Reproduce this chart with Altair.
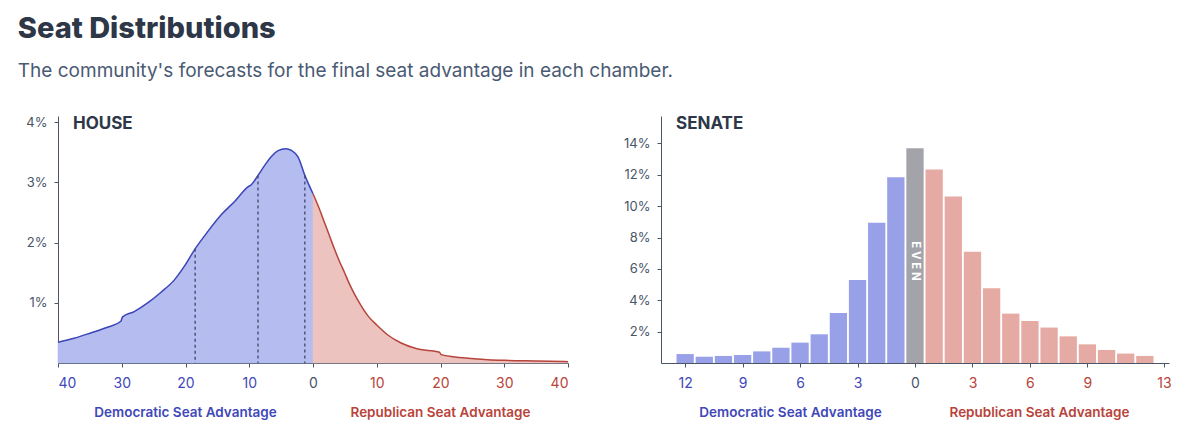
import altair as alt
import pandas as pd

# ---------------- data ----------------
# House: forecast density (% per seat) vs. seat advantage (negative = Democratic)
HOUSE_DEM_X = [-40, -37.48, -34.86, -32.24, -30.14, -29.87, -28.04, -25.94, -23.84, -21.74,
               -20.17, -18.49, -16.5, -14.4, -12.3, -10.2, -9.68, -8.63, -7.58, -6.53,
               -5.48, -4.27, -3.38, -2.33, -1.28, 0]
HOUSE_DEM_Y = [0.343, 0.410, 0.499, 0.593, 0.693, 0.765, 0.853, 0.997, 1.175, 1.380,
               1.607, 1.895, 2.183, 2.460, 2.681, 2.925, 2.958, 3.114, 3.280, 3.429,
               3.524, 3.557, 3.529, 3.418, 3.114, 2.809]
HOUSE_REP_X = [0, 0.99, 1.78, 2.57, 3.35, 4.14, 4.92, 5.71, 6.49, 7.54, 8.59, 10.0, 11.73,
               13.82, 16.44, 19.84, 20.1, 22.2, 24.29, 27.43, 30.05, 34.76, 40]
HOUSE_REP_Y = [2.809, 2.56, 2.338, 2.116, 1.895, 1.690, 1.507, 1.313, 1.147, 0.953, 0.787,
               0.632, 0.465, 0.332, 0.233, 0.177, 0.139, 0.100, 0.078, 0.055, 0.044, 0.033, 0.022]
HOUSE_MARKERS_X = [-18.49, -8.63, -1.28]
HOUSE_MARKERS_Y = [1.895, 3.114, 3.114]

# Senate: probability (%) of each final seat advantage
SENATE_SEATS = list(range(-12, 13))
SENATE_PCT = [0.57, 0.40, 0.45, 0.51, 0.74, 0.98, 1.30, 1.83, 3.19, 5.30, 8.94, 11.85,
              13.70,
              12.34, 10.62, 7.09, 4.77, 3.15, 2.68, 2.26, 1.70, 1.19, 0.83, 0.60, 0.45]

HOUSE_X_TICKS = [-40, -30, -20, -10, 0, 10, 20, 30, 40]
HOUSE_Y_TICKS = [1, 2, 3, 4]
SENATE_X_TICKS = [-12, -9, -6, -3, 0, 3, 6, 9, 13]
SENATE_Y_TICKS = [2, 4, 6, 8, 10, 12, 14]

SIDE_LABELS = ["Democratic Seat Advantage", "Republican Seat Advantage"]
SIDE_PARTY = ["dem", "rep"]
HOUSE_SIDE_X = [-20, 20]
SENATE_SIDE_X = [-6.5, 6.5]

# ---------------- style ----------------
FONT = "Inter"
BLUE_FILL = "#b4bcf0"
BLUE_LINE = "#3c46b8"
RED_FILL = "#ecc3bf"
RED_LINE = "#b8453c"
BAR_BLUE = "#98a1e8"
BAR_GRAY = "#a3a3aa"
BAR_RED = "#e6aaa5"
LBL_BLUE = "#3f48b8"
LBL_RED = "#b8433a"
LBL_GRAY = "#4a5568"
AXIS_COLOR = "#4a5568"
W_H, W_S, H = 510, 508, 247

label_color = alt.ExprRef(
    f"datum.value < 0 ? '{LBL_BLUE}' : (datum.value > 0 ? '{LBL_RED}' : '{LBL_GRAY}')")


def x_axis(ticks):
    return alt.Axis(values=ticks, labelExpr="abs(datum.value)", title=None, grid=False,
                    labelColor=label_color, labelFontSize=14, labelPadding=9,
                    tickSize=4, domainColor=AXIS_COLOR, tickColor=AXIS_COLOR)


def y_axis(ticks):
    return alt.Axis(values=ticks, labelExpr="datum.value + '%'", title=None, grid=False,
                    labelColor=LBL_GRAY, labelFontSize=13, labelPadding=7, tickSize=4,
                    domainColor=AXIS_COLOR, tickColor=AXIS_COLOR)


side_color = alt.condition("datum.party == 'dem'", alt.value(LBL_BLUE), alt.value(LBL_RED))

# ---------------- House ----------------
dem = pd.DataFrame({"seat": HOUSE_DEM_X, "pct": HOUSE_DEM_Y})
rep = pd.DataFrame({"seat": HOUSE_REP_X, "pct": HOUSE_REP_Y})
markers = pd.DataFrame({"seat": HOUSE_MARKERS_X, "pct": HOUSE_MARKERS_Y})

hx = alt.X("seat:Q", scale=alt.Scale(domain=[-40, 40], nice=False), axis=x_axis(HOUSE_X_TICKS))
hy = alt.Y("pct:Q", scale=alt.Scale(domain=[0, 4.1], nice=False), axis=y_axis(HOUSE_Y_TICKS))

dem_area = alt.Chart(dem).mark_area(
    color=BLUE_FILL, opacity=1, interpolate="monotone", stroke=BLUE_FILL, strokeWidth=0.6,
    line={"color": BLUE_LINE, "strokeWidth": 1.5}).encode(x=hx, y=hy)
rep_area = alt.Chart(rep).mark_area(
    color=RED_FILL, opacity=1, interpolate="monotone", stroke=RED_FILL, strokeWidth=0.6,
    line={"color": RED_LINE, "strokeWidth": 1.5}).encode(x="seat:Q", y="pct:Q")
marker_rules = alt.Chart(markers).mark_rule(
    color="#3f4466", strokeDash=[3, 3], strokeWidth=1.3).encode(
    x="seat:Q", y="pct:Q", y2=alt.datum(0))

house_side = pd.DataFrame({"seat": HOUSE_SIDE_X, "label": SIDE_LABELS, "party": SIDE_PARTY})
house_side_text = alt.Chart(house_side).mark_text(
    font=FONT, fontSize=13.5, fontWeight=600, baseline="alphabetic").encode(
    x="seat:Q", y=alt.value(301), text="label:N", color=side_color)

house_title = alt.Chart(pd.DataFrame({"t": ["HOUSE"]})).mark_text(
    font=FONT, fontSize=17, fontWeight="bold", color="#2d3748", align="left",
    baseline="alphabetic").encode(x=alt.value(15), y=alt.value(13), text="t:N")

house = alt.layer(dem_area, rep_area, marker_rules, house_side_text, house_title).properties(
    width=W_H, height=H)

# ---------------- Senate ----------------
senate = pd.DataFrame({"seat": SENATE_SEATS, "pct": SENATE_PCT})

sx = alt.X("seat:Q", scale=alt.Scale(domain=[-13, 13], nice=False), axis=x_axis(SENATE_X_TICKS))
sy = alt.Y("pct:Q", scale=alt.Scale(domain=[0, 15.75], nice=False), axis=y_axis(SENATE_Y_TICKS))

bars = alt.Chart(senate).transform_calculate(
    side="datum.seat < 0 ? 'dem' : (datum.seat > 0 ? 'rep' : 'even')"
).mark_bar(size=17.3).encode(
    x=sx, y=sy,
    color=alt.Color("side:N", legend=None,
                    scale=alt.Scale(domain=["dem", "even", "rep"],
                                    range=[BAR_BLUE, BAR_GRAY, BAR_RED])))

even_text = alt.Chart(pd.DataFrame({"seat": [0], "pct": [6.5], "t": ["E V E N"]})).mark_text(
    font=FONT, fontSize=11.5, fontWeight="bold", color="white", angle=90,
    align="center", baseline="middle").encode(x="seat:Q", y="pct:Q", text="t:N")

senate_side = pd.DataFrame({"seat": SENATE_SIDE_X, "label": SIDE_LABELS, "party": SIDE_PARTY})
senate_side_text = alt.Chart(senate_side).mark_text(
    font=FONT, fontSize=13.5, fontWeight=600, baseline="alphabetic").encode(
    x="seat:Q", y=alt.value(301), text="label:N", color=side_color)

senate_title = alt.Chart(pd.DataFrame({"t": ["SENATE"]})).mark_text(
    font=FONT, fontSize=17, fontWeight="bold", color="#2d3748", align="left",
    baseline="alphabetic").encode(x=alt.value(15), y=alt.value(13), text="t:N")

senate_chart = alt.layer(bars, even_text, senate_side_text, senate_title).properties(
    width=W_S, height=H)

# ---------------- combine ----------------
chart = alt.hconcat(house, senate_chart, spacing=52).resolve_scale(
    x="independent", y="independent", color="independent"
).properties(
    title=alt.TitleParams(
        "Seat Distributions",
        subtitle="The community's forecasts for the final seat advantage in each chamber.",
        anchor="start", font=FONT, fontSize=29, fontWeight=800, color="#2d3748",
        subtitleFont=FONT, subtitleFontSize=19, subtitleColor="#4a5a73",
        subtitlePadding=18, offset=34, dx=-8),
    padding={"left": 9, "top": 7, "right": 5, "bottom": 5}
).configure_view(stroke=None).configure_axis(labelFont=FONT)

chart.save("out.html", embed_options={"renderer": "svg", "actions": False})
